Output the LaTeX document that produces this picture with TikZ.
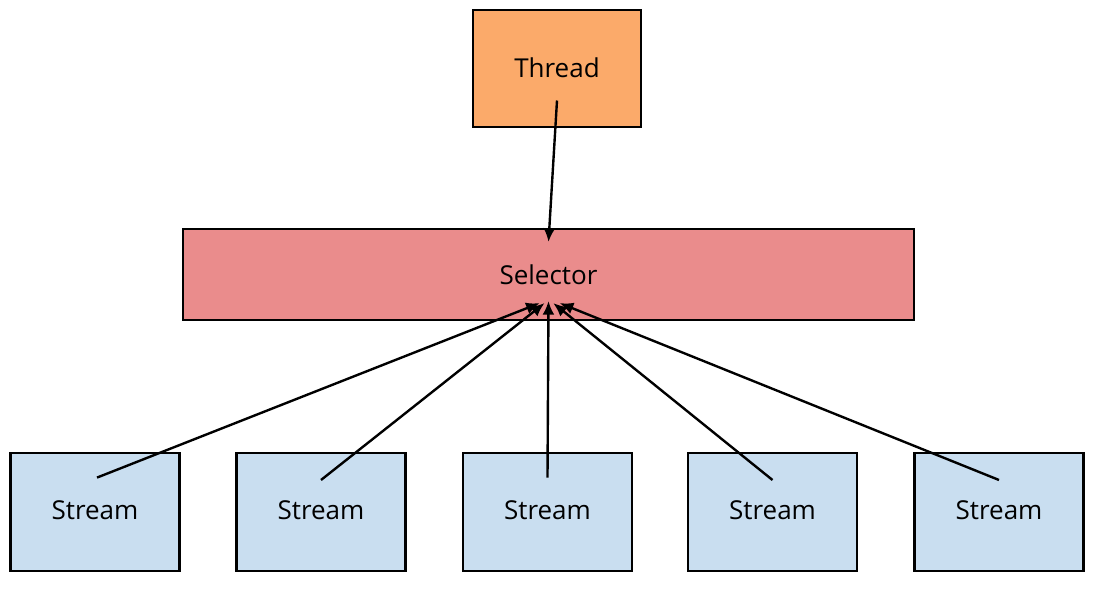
\documentclass[tikz,border=0pt]{standalone}
\usepackage{fontspec}
\setmainfont{Open Sans}
\usepackage{tikz}
\usetikzlibrary{arrows.meta,positioning}
\definecolor{threadorange}{HTML}{FBAA6A}
\definecolor{selectorred}{HTML}{EA8C8C}
\definecolor{streamblue}{HTML}{C9DEF0}

\begin{document}
\begin{tikzpicture}
                [
                    x=0.025cm, y=-0.025cm,
                    threadnode/.style={rectangle, draw=black, fill=threadorange, line width=1.7pt, minimum width=4.2cm, minimum height=2.92cm},
                    selectornode/.style={rectangle, draw=black, fill=selectorred, line width=1.7pt, minimum width=18.27cm, minimum height=2.27cm},
                    streamnode/.style={rectangle, draw=black, fill=streamblue, line width=1.7pt, minimum width=4.23cm, minimum height=2.95cm},
                    link/.style={line width=1.7pt, -{Latex[length=3.4mm,width=3mm]}},
                    every node/.style={font=\fontsize{18.5}{22}\selectfont, text=black},
                ]
                \useasboundingbox (0,0) rectangle (1098,593);

                \node [threadnode] (thread) at (557,68.5) {\raisebox{1.5pt}{Thread}};
                \node [selectornode] (selector) at (548.5,274.5) {Selector};
                \node [streamnode] (stream1) at (95,512) {\raisebox{2.5pt}{Stream}};
                \node [streamnode] (stream2) at (321,512) {\raisebox{2.5pt}{Stream}};
                \node [streamnode] (stream3) at (547.5,512) {\raisebox{2.5pt}{Stream}};
                \node [streamnode] (stream4) at (772.5,512) {\raisebox{2.5pt}{Stream}};
                \node [streamnode] (stream5) at (999,512) {\raisebox{2.5pt}{Stream}};

                \draw[link] ([yshift=-0.8cm]thread.center) -- ([yshift=-0.35cm]selector.north);
                \draw[link] ([xshift=0.05cm,yshift=0.86cm]stream1.center) -- ([xshift=-0.22cm,yshift=0.45cm]selector.south);
                \draw[link] ([yshift=0.8cm]stream2.center) -- ([xshift=-0.1cm,yshift=0.45cm]selector.south);
                \draw[link] ([yshift=0.86cm]stream3.center) -- ([xshift=0cm,yshift=0.5cm]selector.south);
                \draw[link] ([yshift=0.8cm]stream4.center) -- ([xshift=0.12cm,yshift=0.45cm]selector.south);
                \draw[link] ([yshift=0.8cm]stream5.center) -- ([xshift=0.28cm,yshift=0.45cm]selector.south);

            \end{tikzpicture}
\end{document}
